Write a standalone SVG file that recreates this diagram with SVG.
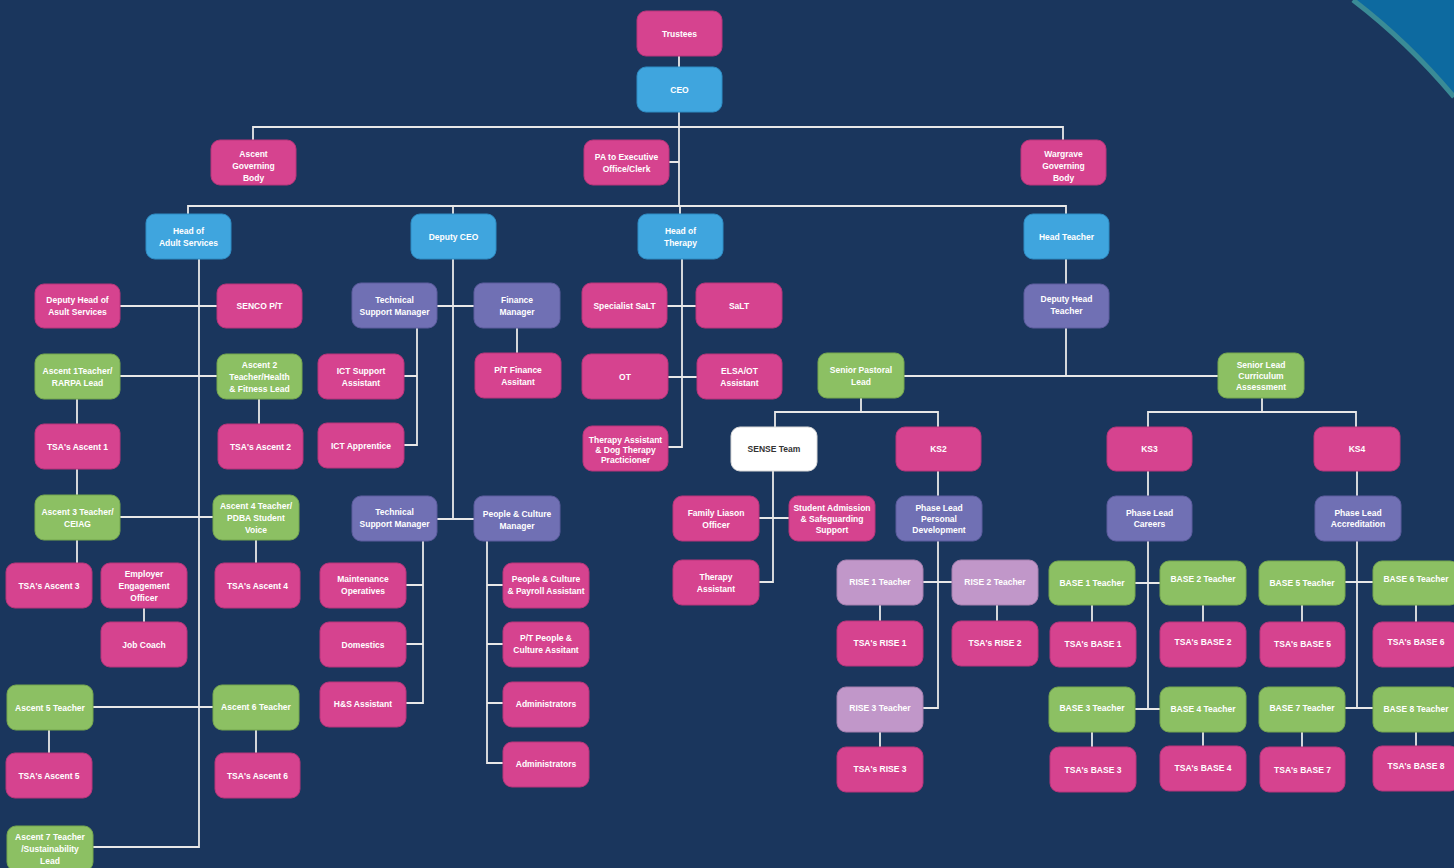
<svg xmlns="http://www.w3.org/2000/svg" width="1454" height="868" viewBox="0 0 1454 868">
<style>
.n rect{rx:9;ry:9;stroke-width:1}
.p rect{fill:#d6438f;stroke:#b8357a}
.b rect{fill:#3fa5de;stroke:#2f8cc4}
.g rect{fill:#8cc063;stroke:#74a64f}
.u rect{fill:#7070b4;stroke:#5c5c9e}
.l rect{fill:#c197c9;stroke:#a57fae}
.w rect{fill:#ffffff;stroke:#d8d8d8}
.n text{font-family:"Liberation Sans",Arial,sans-serif;font-size:8.5px;font-weight:bold;fill:#ffffff;text-anchor:middle}
.w text{fill:#333333}
#connectors path{fill:none;stroke:#e8e8e8;stroke-width:1.8}
</style>
<rect width="1454" height="868" fill="#1a365d"/>
<path d="M1353 0 Q1408 42 1454 97 L1454 0 Z" fill="#0d6aa0"/>
<path d="M1353 0 Q1408 42 1454 97" fill="none" stroke="#3a8b96" stroke-width="5"/>
<g id="connectors">
<path d="M679 56 V67 M679 112 V206 M253 140 V127 H1063 V140 M669 162 H679 M188 214 V206 H1066 V214 M453 206 V214 M680 206 V214"/>
<path d="M199 259 V847 H93 M120 306 H217 M120 376 H217 M77 399 V424 M259 399 V424 M77 469 V495 M120 517 H213 M77 540 V563 M256 540 V563 M144 608 V622 M93 707 H213 M49 730 V753 M256 730 V753"/>
<path d="M453 259 V519 M437 306 H474 M517 328 V353 M417 328 V445 H404 M404 376 H417 M437 519 H474 M423 541 V703 H406 M406 585 H423 M406 644 H423 M487 541 V763 H503 M487 585 H503 M487 644 H503 M487 703 H503"/>
<path d="M682 259 V447 H668 M667 306 H696 M668 377 H697"/>
<path d="M1066 259 V284 M1066 328 V376 M904 376 H1218 M861 398 V412 M775 427 V412 H938 V427 M773 471 V582 H759 M759 518 H789 M938 471 V496 M938 541 V708 H923 M923 582 H952 M880 605 V621 M997 605 V621 M880 732 V747"/>
<path d="M1262 398 V412 M1148 427 V412 H1356 V427 M1148 471 V496 M1357 471 V496 M1148 541 V709 H1135 M1135 583 H1160 M1148 709 H1160 M1357 541 V708 H1345 M1345 582 H1373 M1357 708 H1373 M1092 605 V622 M1203 605 V622 M1302 605 V622 M1416 605 V622 M1092 732 V747 M1203 732 V746 M1302 732 V747 M1416 732 V746"/>
</g>
<g id="trustees" class="n p"><rect x="637" y="11" width="85" height="45"/><text x="679.5" y="36.5">Trustees</text></g>
<g id="ceo" class="n b"><rect x="637" y="67" width="85" height="45"/><text x="679.5" y="92.5">CEO</text></g>
<g id="ascent-gb" class="n p"><rect x="211" y="140" width="85" height="45"/><text x="253.5" y="156.5">Ascent</text><text x="253.5" y="165.5" dy="3">Governing</text><text x="253.5" y="180.5">Body</text></g>
<g id="pa" class="n p"><rect x="584" y="140" width="85" height="45"/><text x="626.5" y="159.5">PA to Executive</text><text x="626.5" y="171.5">Office/Clerk</text></g>
<g id="wargrave" class="n p"><rect x="1021" y="140" width="85" height="45"/><text x="1063.5" y="156.5">Wargrave</text><text x="1063.5" y="168.5">Governing</text><text x="1063.5" y="180.5">Body</text></g>
<g id="head-adult" class="n b"><rect x="146" y="214" width="85" height="45"/><text x="188.5" y="233.5">Head of</text><text x="188.5" y="245.5">Adult Services</text></g>
<g id="deputy-ceo" class="n b"><rect x="411" y="214" width="85" height="45"/><text x="453.5" y="239.5">Deputy CEO</text></g>
<g id="head-therapy" class="n b"><rect x="638" y="214" width="85" height="45"/><text x="680.5" y="233.5">Head of</text><text x="680.5" y="245.5">Therapy</text></g>
<g id="head-teacher" class="n b"><rect x="1024" y="214" width="85" height="45"/><text x="1066.5" y="239.5">Head Teacher</text></g>
<g id="deputy-head-adult" class="n p"><rect x="35" y="284" width="85" height="44"/><text x="77.5" y="303">Deputy Head of</text><text x="77.5" y="315">Asult Services</text></g>
<g id="senco" class="n p"><rect x="217" y="284" width="85" height="44"/><text x="259.5" y="309">SENCO P/T</text></g>
<g id="ascent1" class="n g"><rect x="35" y="354" width="85" height="45"/><text x="77.5" y="373.5">Ascent 1Teacher/</text><text x="77.5" y="385.5">RARPA Lead</text></g>
<g id="ascent2" class="n g"><rect x="217" y="354" width="85" height="45"/><text x="259.5" y="367.5">Ascent 2</text><text x="259.5" y="379.5">Teacher/Health</text><text x="259.5" y="391.5">&amp; Fitness Lead</text></g>
<g id="tsa-a1" class="n p"><rect x="35" y="424" width="85" height="45"/><text x="77.5" y="449.5">TSA's Ascent 1</text></g>
<g id="tsa-a2" class="n p"><rect x="218" y="424" width="85" height="45"/><text x="260.5" y="449.5">TSA's Ascent 2</text></g>
<g id="ascent3" class="n g"><rect x="35" y="495" width="85" height="45"/><text x="77.5" y="514.5">Ascent 3 Teacher/</text><text x="77.5" y="526.5">CEIAG</text></g>
<g id="ascent4" class="n g"><rect x="213" y="495" width="86" height="45"/><text x="256" y="508.5">Ascent 4 Teacher/</text><text x="256" y="520.5">PDBA Student</text><text x="256" y="532.5">Voice</text></g>
<g id="tsa-a3" class="n p"><rect x="6" y="563" width="86" height="45"/><text x="49" y="588.5">TSA's Ascent 3</text></g>
<g id="employer" class="n p"><rect x="101" y="563" width="86" height="45"/><text x="144" y="576.5">Employer</text><text x="144" y="588.5">Engagement</text><text x="144" y="600.5">Officer</text></g>
<g id="tsa-a4" class="n p"><rect x="215" y="563" width="85" height="45"/><text x="257.5" y="588.5">TSA's Ascent 4</text></g>
<g id="job-coach" class="n p"><rect x="101" y="622" width="86" height="45"/><text x="144" y="647.5">Job Coach</text></g>
<g id="ascent5" class="n g"><rect x="7" y="685" width="86" height="45"/><text x="50" y="710.5">Ascent 5 Teacher</text></g>
<g id="ascent6" class="n g"><rect x="213" y="685" width="86" height="45"/><text x="256" y="709.5">Ascent 6 Teacher</text></g>
<g id="tsa-a5" class="n p"><rect x="6" y="753" width="86" height="45"/><text x="49" y="778.5">TSA's Ascent 5</text></g>
<g id="tsa-a6" class="n p"><rect x="215" y="753" width="85" height="45"/><text x="257.5" y="778.5">TSA's Ascent 6</text></g>
<g id="ascent7" class="n g"><rect x="7" y="826" width="86" height="45"/><text x="50" y="840">Ascent 7 Teacher</text><text x="50" y="852">/Sustainability</text><text x="50" y="864">Lead</text></g>
<g id="tsm1" class="n u"><rect x="352" y="283" width="85" height="45"/><text x="394.5" y="302.5">Technical</text><text x="394.5" y="314.5">Support Manager</text></g>
<g id="finance" class="n u"><rect x="474" y="283" width="86" height="45"/><text x="517" y="302.5">Finance</text><text x="517" y="314.5">Manager</text></g>
<g id="ict-support" class="n p"><rect x="318" y="354" width="86" height="45"/><text x="361" y="373.5">ICT Support</text><text x="361" y="385.5">Assistant</text></g>
<g id="pt-finance" class="n p"><rect x="475" y="353" width="86" height="45"/><text x="518" y="372.5">P/T Finance</text><text x="518" y="384.5">Assitant</text></g>
<g id="ict-apprentice" class="n p"><rect x="318" y="423" width="86" height="45"/><text x="361" y="448.5">ICT Apprentice</text></g>
<g id="tsm2" class="n u"><rect x="352" y="496" width="85" height="45"/><text x="394.5" y="514.5">Technical</text><text x="394.5" y="526.5">Support Manager</text></g>
<g id="pcm" class="n u"><rect x="474" y="496" width="86" height="45"/><text x="517" y="516.5">People &amp; Culture</text><text x="517" y="528.5">Manager</text></g>
<g id="maintenance" class="n p"><rect x="320" y="563" width="86" height="45"/><text x="363" y="581.5">Maintenance</text><text x="363" y="593.5">Operatives</text></g>
<g id="domestics" class="n p"><rect x="320" y="622" width="86" height="45"/><text x="363" y="647.5">Domestics</text></g>
<g id="hs" class="n p"><rect x="320" y="682" width="86" height="45"/><text x="363" y="706.5">H&amp;S Assistant</text></g>
<g id="pc-payroll" class="n p"><rect x="503" y="563" width="86" height="45"/><text x="546" y="581.5">People &amp; Culture</text><text x="546" y="593.5">&amp; Payroll Assistant</text></g>
<g id="pt-pc" class="n p"><rect x="503" y="622" width="86" height="45"/><text x="546" y="640.5">P/T People &amp;</text><text x="546" y="652.5">Culture Assitant</text></g>
<g id="admin1" class="n p"><rect x="503" y="682" width="86" height="45"/><text x="546" y="706.5">Administrators</text></g>
<g id="admin2" class="n p"><rect x="503" y="742" width="86" height="45"/><text x="546" y="766.5">Administrators</text></g>
<g id="spec-salt" class="n p"><rect x="582" y="283" width="85" height="45"/><text x="624.5" y="308.5">Specialist SaLT</text></g>
<g id="salt" class="n p"><rect x="696" y="283" width="86" height="45"/><text x="739" y="308.5">SaLT</text></g>
<g id="ot" class="n p"><rect x="582" y="354" width="86" height="45"/><text x="625" y="379.5">OT</text></g>
<g id="elsa" class="n p"><rect x="697" y="354" width="85" height="45"/><text x="739.5" y="373.5">ELSA/OT</text><text x="739.5" y="385.5">Assistant</text></g>
<g id="therapy-assistant-dog" class="n p"><rect x="583" y="426" width="85" height="45"/><text x="625.5" y="442.5">Therapy Assistant</text><text x="625.5" y="452.5">&amp; Dog Therapy</text><text x="625.5" y="462.5">Practicioner</text></g>
<g id="deputy-head-teacher" class="n u"><rect x="1024" y="284" width="85" height="44"/><text x="1066.5" y="302">Deputy Head</text><text x="1066.5" y="314">Teacher</text></g>
<g id="senior-pastoral" class="n g"><rect x="818" y="353" width="86" height="45"/><text x="861" y="372.5">Senior Pastoral</text><text x="861" y="384.5">Lead</text></g>
<g id="senior-lead-curriculum" class="n g"><rect x="1218" y="353" width="86" height="45"/><text x="1261" y="367.5">Senior Lead</text><text x="1261" y="378.5">Curriculum</text><text x="1261" y="389.5">Assessment</text></g>
<g id="sense" class="n w"><rect x="731" y="427" width="86" height="44"/><text x="774" y="451.5">SENSE Team</text></g>
<g id="ks2" class="n p"><rect x="896" y="427" width="85" height="44"/><text x="938.5" y="451.5">KS2</text></g>
<g id="family" class="n p"><rect x="673" y="496" width="86" height="45"/><text x="716" y="515.5">Family Liason</text><text x="716" y="527.5">Officer</text></g>
<g id="student-admission" class="n p"><rect x="789" y="496" width="86" height="45"/><text x="832" y="511">Student Admission</text><text x="832" y="522">&amp; Safeguarding</text><text x="832" y="533">Support</text></g>
<g id="therapy-assistant" class="n p"><rect x="673" y="560" width="86" height="45"/><text x="716" y="579.5">Therapy</text><text x="716" y="591.5">Assistant</text></g>
<g id="phase-pd" class="n u"><rect x="896" y="496" width="86" height="45"/><text x="939" y="511">Phase Lead</text><text x="939" y="522">Personal</text><text x="939" y="533">Development</text></g>
<g id="rise1-teacher" class="n l"><rect x="837" y="560" width="86" height="45"/><text x="880" y="584.5">RISE 1 Teacher</text></g>
<g id="rise2-teacher" class="n l"><rect x="952" y="560" width="86" height="45"/><text x="995" y="584.5">RISE 2 Teacher</text></g>
<g id="tsa-rise1" class="n p"><rect x="837" y="621" width="86" height="45"/><text x="880" y="645.5">TSA's RISE 1</text></g>
<g id="tsa-rise2" class="n p"><rect x="952" y="621" width="86" height="45"/><text x="995" y="645.5">TSA's RISE 2</text></g>
<g id="rise3-teacher" class="n l"><rect x="837" y="687" width="86" height="45"/><text x="880" y="710.5">RISE 3 Teacher</text></g>
<g id="tsa-rise3" class="n p"><rect x="837" y="747" width="86" height="45"/><text x="880" y="771.5">TSA's RISE 3</text></g>
<g id="ks3" class="n p"><rect x="1107" y="427" width="85" height="44"/><text x="1149.5" y="451.5">KS3</text></g>
<g id="ks4" class="n p"><rect x="1314" y="427" width="86" height="44"/><text x="1357" y="451.5">KS4</text></g>
<g id="phase-careers" class="n u"><rect x="1107" y="496" width="85" height="45"/><text x="1149.5" y="515.5">Phase Lead</text><text x="1149.5" y="526.5">Careers</text></g>
<g id="phase-accreditation" class="n u"><rect x="1315" y="496" width="86" height="45"/><text x="1358" y="515.5">Phase Lead</text><text x="1358" y="526.5">Accreditation</text></g>
<g id="base1-teacher" class="n g"><rect x="1049" y="561" width="86" height="44"/><text x="1092" y="586">BASE 1 Teacher</text></g>
<g id="base2-teacher" class="n g"><rect x="1160" y="561" width="86" height="44"/><text x="1203" y="582">BASE 2 Teacher</text></g>
<g id="base5-teacher" class="n g"><rect x="1259" y="561" width="86" height="44"/><text x="1302" y="586">BASE 5 Teacher</text></g>
<g id="base6-teacher" class="n g"><rect x="1373" y="561" width="86" height="44"/><text x="1416" y="582">BASE 6 Teacher</text></g>
<g id="tsa-base1" class="n p"><rect x="1050" y="622" width="86" height="45"/><text x="1093" y="646.5">TSA's BASE 1</text></g>
<g id="tsa-base2" class="n p"><rect x="1160" y="622" width="86" height="45"/><text x="1203" y="644.5">TSA's BASE 2</text></g>
<g id="tsa-base5" class="n p"><rect x="1260" y="622" width="85" height="45"/><text x="1302.5" y="646.5">TSA's BASE 5</text></g>
<g id="tsa-base6" class="n p"><rect x="1373" y="622" width="86" height="45"/><text x="1416" y="644.5">TSA's BASE 6</text></g>
<g id="base3-teacher" class="n g"><rect x="1049" y="687" width="86" height="45"/><text x="1092" y="711">BASE 3 Teacher</text></g>
<g id="base4-teacher" class="n g"><rect x="1160" y="687" width="86" height="45"/><text x="1203" y="712">BASE 4 Teacher</text></g>
<g id="base7-teacher" class="n g"><rect x="1259" y="687" width="86" height="45"/><text x="1302" y="711">BASE 7 Teacher</text></g>
<g id="base8-teacher" class="n g"><rect x="1373" y="687" width="86" height="45"/><text x="1416" y="712">BASE 8 Teacher</text></g>
<g id="tsa-base3" class="n p"><rect x="1050" y="747" width="86" height="45"/><text x="1093" y="773">TSA's BASE 3</text></g>
<g id="tsa-base4" class="n p"><rect x="1160" y="746" width="86" height="45"/><text x="1203" y="771">TSA's BASE 4</text></g>
<g id="tsa-base7" class="n p"><rect x="1260" y="747" width="85" height="45"/><text x="1302.5" y="773">TSA's BASE 7</text></g>
<g id="tsa-base8" class="n p"><rect x="1373" y="746" width="86" height="45"/><text x="1416" y="769">TSA's BASE 8</text></g>
</svg>
